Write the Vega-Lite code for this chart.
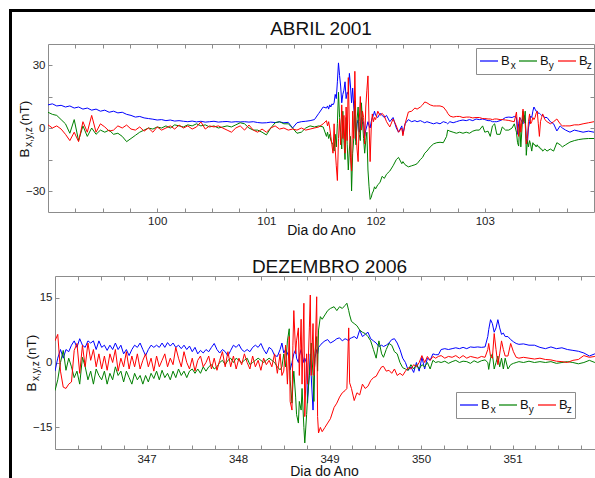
{
  "$schema": "https://vega.github.io/schema/vega-lite/v6.json",
  "padding": {"left": 9, "top": 9, "right": 0, "bottom": 30},
  "background": "white",
  "bounds": "flush",
  "spacing": 0,
  "resolve": {"scale": {"color": "independent", "shape": "independent"}},
  "config": {
    "font": "Liberation Sans",
    "view": {"stroke": "#8c8c8c", "strokeWidth": 1},
    "axis": {"grid": false, "domain": false, "tickColor": "#8c8c8c", "labelColor": "#222222", "labelFontSize": 11.5, "titleColor": "#111111", "titleFontWeight": "normal"}
  },
  "datasets": {
    "abril": [
      {"d":99.00,"Bx":11,"By":7.5,"Bz":1.5},{"d":99.04,"Bx":11.5,"By":6.5,"Bz":0},{"d":99.08,"Bx":10.5,"By":6,"Bz":1},
      {"d":99.12,"Bx":10.8,"By":4,"Bz":-0.5},{"d":99.16,"Bx":10,"By":2,"Bz":-3},{"d":99.20,"Bx":10.5,"By":-2.5,"Bz":-6},
      {"d":99.24,"Bx":9.5,"By":4,"Bz":-2},{"d":99.28,"Bx":10,"By":-6,"Bz":-6.5},{"d":99.32,"Bx":9,"By":1,"Bz":3},
      {"d":99.36,"Bx":9.5,"By":-4,"Bz":-2},{"d":99.40,"Bx":8.5,"By":0,"Bz":6},{"d":99.44,"Bx":9,"By":-3,"Bz":-2},
      {"d":99.48,"Bx":8,"By":-1,"Bz":2},{"d":99.52,"Bx":8.5,"By":-2,"Bz":0.5},{"d":99.56,"Bx":7.5,"By":-1,"Bz":-1.5},
      {"d":99.60,"Bx":8,"By":-3,"Bz":-1},{"d":99.64,"Bx":7.2,"By":-2.5,"Bz":1},{"d":99.68,"Bx":7.5,"By":-4,"Bz":0},
      {"d":99.72,"Bx":6.5,"By":-6.5,"Bz":1.4},{"d":99.76,"Bx":6,"By":-5,"Bz":-0.5},{"d":99.80,"Bx":5.2,"By":-3.5,"Bz":-1},
      {"d":99.84,"Bx":5.5,"By":-2,"Bz":0.5},{"d":99.88,"Bx":4.8,"By":-1,"Bz":-1.5},{"d":99.92,"Bx":4.5,"By":0,"Bz":0},
      {"d":99.96,"Bx":4.2,"By":-0.5,"Bz":-2},{"d":100.00,"Bx":3.8,"By":0.5,"Bz":0.5},{"d":100.04,"Bx":4,"By":0,"Bz":-1},
      {"d":100.08,"Bx":3.5,"By":1,"Bz":0},{"d":100.12,"Bx":3.8,"By":0,"Bz":1},{"d":100.16,"Bx":3.3,"By":1.5,"Bz":-0.5},
      {"d":100.20,"Bx":3.5,"By":1,"Bz":1.4},{"d":100.24,"Bx":3.2,"By":0.5,"Bz":0},{"d":100.28,"Bx":3,"By":1.5,"Bz":1},
      {"d":100.32,"Bx":3.3,"By":1,"Bz":-0.5},{"d":100.36,"Bx":2.9,"By":2,"Bz":0.5},{"d":100.40,"Bx":3.2,"By":1,"Bz":2.9},
      {"d":100.44,"Bx":2.8,"By":1.5,"Bz":-0.5},{"d":100.48,"Bx":3,"By":0.5,"Bz":1},{"d":100.52,"Bx":3.2,"By":1,"Bz":0.5},
      {"d":100.56,"Bx":2.8,"By":0,"Bz":1},{"d":100.60,"Bx":3,"By":0.5,"Bz":0},{"d":100.64,"Bx":3.1,"By":1,"Bz":-1},
      {"d":100.68,"Bx":2.8,"By":0.5,"Bz":-2},{"d":100.72,"Bx":3,"By":1.5,"Bz":0},{"d":100.76,"Bx":2.9,"By":2.5,"Bz":1},
      {"d":100.80,"Bx":3,"By":2,"Bz":-1},{"d":100.84,"Bx":2.8,"By":0,"Bz":1.4},{"d":100.88,"Bx":3,"By":-1,"Bz":-1},
      {"d":100.92,"Bx":2.6,"By":-1,"Bz":-2},{"d":100.96,"Bx":2.4,"By":-2,"Bz":-0.5},{"d":101.00,"Bx":2.5,"By":-3.3,"Bz":-2},
      {"d":101.04,"Bx":2.8,"By":0,"Bz":0},{"d":101.08,"Bx":2.6,"By":2.5,"Bz":1},{"d":101.12,"Bx":2.9,"By":3,"Bz":-0.5},
      {"d":101.16,"Bx":2.5,"By":2,"Bz":0},{"d":101.20,"Bx":2.7,"By":2,"Bz":-1},{"d":101.24,"Bx":0,"By":0,"Bz":-0.5},
      {"d":101.28,"Bx":2.5,"By":-2.5,"Bz":-1},{"d":101.32,"Bx":3,"By":-2,"Bz":0},{"d":101.36,"Bx":3.2,"By":0,"Bz":-1},
      {"d":101.40,"Bx":3.5,"By":1,"Bz":-0.5},{"d":101.44,"Bx":4,"By":0.5,"Bz":0},{"d":101.48,"Bx":7,"By":1,"Bz":0.5},
      {"d":101.52,"Bx":10,"By":0.5,"Bz":2},{"d":101.55,"Bx":9.5,"By":-4,"Bz":3.5},{"d":101.56,"Bx":10.5,"By":-2,"Bz":1},
      {"d":101.57,"Bx":9,"By":-5,"Bz":3},{"d":101.58,"Bx":11,"By":-3,"Bz":0},{"d":101.59,"Bx":10,"By":-6,"Bz":-4},
      {"d":101.60,"Bx":11.5,"By":-7,"Bz":-8},{"d":101.61,"Bx":11,"By":-8,"Bz":-12},{"d":101.62,"Bx":12,"By":-11,"Bz":2},
      {"d":101.63,"Bx":16,"By":-3,"Bz":-10},{"d":101.64,"Bx":14,"By":-9,"Bz":-18},{"d":101.65,"Bx":22,"By":2,"Bz":-25},
      {"d":101.66,"Bx":31,"By":17,"Bz":-5},{"d":101.67,"Bx":25,"By":5,"Bz":4},{"d":101.68,"Bx":20,"By":-2,"Bz":-8},
      {"d":101.69,"Bx":12,"By":-10,"Bz":11},{"d":101.70,"Bx":16,"By":8,"Bz":-5},{"d":101.71,"Bx":18,"By":-6,"Bz":6},
      {"d":101.72,"Bx":22,"By":-15,"Bz":-12},{"d":101.73,"Bx":14,"By":5,"Bz":10},{"d":101.74,"Bx":17,"By":-8,"Bz":-6},
      {"d":101.75,"Bx":16,"By":-20,"Bz":24},{"d":101.76,"Bx":26,"By":-10,"Bz":0},{"d":101.77,"Bx":20,"By":-4,"Bz":-14},
      {"d":101.78,"Bx":12,"By":-30,"Bz":-20.5},{"d":101.79,"Bx":19,"By":-12,"Bz":8},{"d":101.80,"Bx":10,"By":-5,"Bz":-5},
      {"d":101.81,"Bx":5,"By":13,"Bz":27},{"d":101.82,"Bx":-6,"By":-8,"Bz":0},{"d":101.83,"Bx":2,"By":4,"Bz":-10},
      {"d":101.84,"Bx":4,"By":10,"Bz":-16},{"d":101.85,"Bx":-2,"By":-3,"Bz":3},{"d":101.86,"Bx":0,"By":-6,"Bz":15},
      {"d":101.87,"Bx":5,"By":12,"Bz":-1},{"d":101.88,"Bx":2,"By":3,"Bz":8},{"d":101.89,"Bx":3,"By":-5,"Bz":5},
      {"d":101.90,"Bx":-4,"By":-12,"Bz":-7.6},{"d":101.91,"Bx":-1,"By":-6,"Bz":10},{"d":101.92,"Bx":1,"By":-2,"Bz":18},
      {"d":101.93,"Bx":3,"By":-20,"Bz":24.8},{"d":101.94,"Bx":1,"By":-28,"Bz":2},{"d":101.95,"Bx":0,"By":-34,"Bz":-16},
      {"d":101.96,"Bx":3,"By":-33,"Bz":0},{"d":101.97,"Bx":5,"By":-31,"Bz":6.7},{"d":101.98,"Bx":6,"By":-30,"Bz":3},
      {"d":101.99,"Bx":8,"By":-28,"Bz":5},{"d":102.00,"Bx":6,"By":-29,"Bz":4},{"d":102.02,"Bx":5,"By":-27,"Bz":8},
      {"d":102.04,"Bx":7,"By":-26,"Bz":6},{"d":102.06,"Bx":6,"By":-23,"Bz":7},{"d":102.08,"Bx":5,"By":-24,"Bz":5.7},
      {"d":102.10,"Bx":6,"By":-22,"Bz":3},{"d":102.13,"Bx":3,"By":-20.5,"Bz":0.5},{"d":102.16,"Bx":5,"By":-18,"Bz":4.3},
      {"d":102.19,"Bx":0,"By":-15,"Bz":1},{"d":102.21,"Bx":-2,"By":-14,"Bz":-2},{"d":102.24,"Bx":1,"By":-17,"Bz":0},
      {"d":102.25,"Bx":-3,"By":-16,"Bz":-3.7},{"d":102.27,"Bx":2,"By":-17.5,"Bz":2},{"d":102.30,"Bx":4,"By":-18.5,"Bz":7.6},
      {"d":102.33,"Bx":3,"By":-18,"Bz":8},{"d":102.36,"Bx":3.5,"By":-17.5,"Bz":9.5},{"d":102.38,"Bx":3,"By":-17,"Bz":9},
      {"d":102.41,"Bx":3.5,"By":-15,"Bz":10},{"d":102.43,"Bx":3,"By":-14,"Bz":11},{"d":102.45,"Bx":2.5,"By":-12,"Bz":12.4},
      {"d":102.47,"Bx":3,"By":-11,"Bz":12},{"d":102.50,"Bx":2.5,"By":-9,"Bz":11},{"d":102.53,"Bx":2,"By":-7.6,"Bz":10.5},
      {"d":102.56,"Bx":2.5,"By":-7,"Bz":10.5},{"d":102.59,"Bx":2,"By":-6.8,"Bz":10.5},{"d":102.62,"Bx":3,"By":-7,"Bz":10},
      {"d":102.65,"Bx":2.5,"By":-4,"Bz":8},{"d":102.66,"Bx":2,"By":-1,"Bz":7},{"d":102.68,"Bx":3,"By":-1.5,"Bz":5.7},
      {"d":102.71,"Bx":2.5,"By":-2,"Bz":5.2},{"d":102.74,"Bx":3,"By":-2.5,"Bz":5.5},{"d":102.77,"Bx":3.5,"By":-2,"Bz":5.5},
      {"d":102.80,"Bx":3.8,"By":-2.5,"Bz":5},{"d":102.83,"Bx":3.5,"By":-2,"Bz":5.2},{"d":102.86,"Bx":4,"By":-2.5,"Bz":5.2},
      {"d":102.89,"Bx":3.5,"By":-1.5,"Bz":4.8},{"d":102.92,"Bx":4.3,"By":-1,"Bz":5},{"d":102.95,"Bx":4,"By":-1,"Bz":5},
      {"d":102.98,"Bx":4.3,"By":1,"Bz":4.5},{"d":103.00,"Bx":4,"By":-2,"Bz":4.5},{"d":103.03,"Bx":3.5,"By":-1.5,"Bz":4.3},
      {"d":103.05,"Bx":3.5,"By":-4,"Bz":4.3},{"d":103.07,"Bx":3,"By":1,"Bz":4},{"d":103.09,"Bx":3,"By":2,"Bz":4.3},
      {"d":103.11,"Bx":3,"By":-3,"Bz":4.3},{"d":103.14,"Bx":3.5,"By":-3,"Bz":4},{"d":103.16,"Bx":4,"By":0.5,"Bz":4},
      {"d":103.19,"Bx":5,"By":-1,"Bz":3.8},{"d":103.22,"Bx":5.2,"By":-1,"Bz":3.6},{"d":103.25,"Bx":5,"By":0,"Bz":3.2},
      {"d":103.27,"Bx":5.5,"By":2,"Bz":3},{"d":103.29,"Bx":5,"By":-2,"Bz":7.6},{"d":103.30,"Bx":-3,"By":-7,"Bz":0},
      {"d":103.31,"Bx":2,"By":-8.6,"Bz":-4},{"d":103.32,"Bx":5,"By":2,"Bz":5},{"d":103.33,"Bx":4,"By":-9,"Bz":-2},
      {"d":103.35,"Bx":2,"By":8,"Bz":9},{"d":103.36,"Bx":6,"By":3,"Bz":3},{"d":103.37,"Bx":4,"By":8,"Bz":2},
      {"d":103.38,"Bx":-5,"By":-13,"Bz":-7.6},{"d":103.39,"Bx":-7.6,"By":-6,"Bz":-5},{"d":103.40,"Bx":0,"By":-9,"Bz":3},
      {"d":103.41,"Bx":3,"By":-6,"Bz":6.7},{"d":103.42,"Bx":5.7,"By":-8,"Bz":2},{"d":103.43,"Bx":5,"By":-11,"Bz":3},
      {"d":103.44,"Bx":8,"By":-7,"Bz":5},{"d":103.45,"Bx":10,"By":-8,"Bz":4},{"d":103.46,"Bx":9,"By":-8,"Bz":5},
      {"d":103.47,"Bx":8,"By":-9,"Bz":7},{"d":103.48,"Bx":8,"By":-8,"Bz":8},{"d":103.49,"Bx":7,"By":-9,"Bz":2},
      {"d":103.50,"Bx":7,"By":-9,"Bz":-4},{"d":103.51,"Bx":6.5,"By":-10,"Bz":3},{"d":103.52,"Bx":6,"By":-10,"Bz":5},
      {"d":103.53,"Bx":6,"By":-11,"Bz":6.7},{"d":103.55,"Bx":5,"By":-10,"Bz":4},{"d":103.57,"Bx":5,"By":-11,"Bz":3},
      {"d":103.60,"Bx":3,"By":-10,"Bz":2},{"d":103.63,"Bx":2,"By":-11,"Bz":3},{"d":103.66,"Bx":-1.4,"By":-7,"Bz":4.3},
      {"d":103.69,"Bx":1,"By":-8,"Bz":2},{"d":103.71,"Bx":0,"By":-9,"Bz":1},{"d":103.74,"Bx":-1,"By":-8,"Bz":1},
      {"d":103.78,"Bx":-2,"By":-6.7,"Bz":1},{"d":103.82,"Bx":-1,"By":-6,"Bz":1.5},{"d":103.86,"Bx":-1.5,"By":-5.5,"Bz":1.5},
      {"d":103.90,"Bx":-2,"By":-5.2,"Bz":2},{"d":103.95,"Bx":-1.5,"By":-5,"Bz":2.5},{"d":104.00,"Bx":-2,"By":-5,"Bz":3}
    ],
    "dez": [
      {"d":346.00,"Bx":-2,"By":-6.5,"Bz":5},{"d":346.03,"Bx":1,"By":-4,"Bz":6.5},{"d":346.06,"Bx":3,"By":0,"Bz":-2},
      {"d":346.09,"Bx":1,"By":2.8,"Bz":-5.7},{"d":346.12,"Bx":3,"By":-1.8,"Bz":-6},{"d":346.15,"Bx":2.5,"By":1,"Bz":-5},
      {"d":346.18,"Bx":4,"By":-1,"Bz":-4.5},{"d":346.21,"Bx":5,"By":-3.5,"Bz":2.8},{"d":346.24,"Bx":3.5,"By":-2,"Bz":4.4},
      {"d":346.27,"Bx":5.5,"By":-5,"Bz":-2.5},{"d":346.30,"Bx":4,"By":1.2,"Bz":4},{"d":346.33,"Bx":3.5,"By":-1,"Bz":-1},
      {"d":346.36,"Bx":5,"By":-4,"Bz":4.5},{"d":346.39,"Bx":4.5,"By":-2,"Bz":0.5},{"d":346.42,"Bx":5,"By":-5,"Bz":3},
      {"d":346.45,"Bx":3,"By":-1.5,"Bz":-1},{"d":346.48,"Bx":5,"By":-3,"Bz":2},{"d":346.51,"Bx":3.5,"By":-4,"Bz":-1.5},
      {"d":346.54,"Bx":4,"By":-2,"Bz":1.5},{"d":346.57,"Bx":2.8,"By":-5,"Bz":-1.8},{"d":346.60,"Bx":4,"By":-2.5,"Bz":2},
      {"d":346.63,"Bx":3,"By":-4,"Bz":0},{"d":346.66,"Bx":4.5,"By":-1,"Bz":3},{"d":346.69,"Bx":3,"By":-3,"Bz":-2},
      {"d":346.72,"Bx":4,"By":-2,"Bz":1},{"d":346.75,"Bx":2,"By":-4.5,"Bz":-1},{"d":346.78,"Bx":3,"By":-2,"Bz":2.5},
      {"d":346.81,"Bx":1.6,"By":-3.5,"Bz":-1.5},{"d":346.84,"Bx":3,"By":-5,"Bz":1.5},{"d":346.87,"Bx":4,"By":-2.5,"Bz":-1},
      {"d":346.90,"Bx":3.5,"By":-4,"Bz":2},{"d":346.93,"Bx":4.5,"By":-3,"Bz":-1.5},{"d":346.96,"Bx":3,"By":-5,"Bz":0.5},
      {"d":346.99,"Bx":1.6,"By":-3,"Bz":2},{"d":347.02,"Bx":3,"By":-4.5,"Bz":-1},{"d":347.05,"Bx":4,"By":-2.5,"Bz":1},
      {"d":347.08,"Bx":3.5,"By":-3.7,"Bz":-2},{"d":347.11,"Bx":4,"By":-2,"Bz":1.5},{"d":347.14,"Bx":3.5,"By":-4,"Bz":-1},
      {"d":347.17,"Bx":4.5,"By":-1.8,"Bz":0.5},{"d":347.20,"Bx":3.5,"By":-3.5,"Bz":2},{"d":347.23,"Bx":4.6,"By":-2.5,"Bz":-1},
      {"d":347.26,"Bx":3.8,"By":-4,"Bz":1},{"d":347.29,"Bx":4.5,"By":-2,"Bz":-0.5},{"d":347.32,"Bx":3.5,"By":-3.5,"Bz":3.5},
      {"d":347.35,"Bx":4,"By":-1.5,"Bz":1},{"d":347.38,"Bx":3.2,"By":-3,"Bz":-1},{"d":347.41,"Bx":4,"By":-2,"Bz":2.5},
      {"d":347.44,"Bx":3,"By":-3.5,"Bz":0},{"d":347.47,"Bx":3.8,"By":-2,"Bz":-1.5},{"d":347.50,"Bx":2.5,"By":-1.5,"Bz":1},
      {"d":347.53,"Bx":3.5,"By":-2.5,"Bz":-2},{"d":347.56,"Bx":2,"By":-1.5,"Bz":0.5},{"d":347.59,"Bx":2.8,"By":-2.5,"Bz":1.5},
      {"d":347.62,"Bx":2.2,"By":-1,"Bz":-1},{"d":347.65,"Bx":3,"By":-2,"Bz":0},{"d":347.68,"Bx":2.5,"By":-1,"Bz":1.5},
      {"d":347.71,"Bx":3.5,"By":-0.5,"Bz":-1.5},{"d":347.74,"Bx":4.4,"By":-1.5,"Bz":1},{"d":347.77,"Bx":3,"By":-1,"Bz":-1.8},
      {"d":347.80,"Bx":2.2,"By":0,"Bz":0.5},{"d":347.83,"Bx":3,"By":0.5,"Bz":2.5},{"d":347.86,"Bx":2.5,"By":-0.5,"Bz":-1},
      {"d":347.89,"Bx":1.5,"By":0.5,"Bz":2.5},{"d":347.92,"Bx":2.8,"By":1,"Bz":-1},{"d":347.95,"Bx":4,"By":0,"Bz":1.5},
      {"d":347.98,"Bx":3.5,"By":1,"Bz":-1.5},{"d":348.01,"Bx":4.2,"By":0.5,"Bz":1},{"d":348.04,"Bx":3,"By":0,"Bz":-0.5},
      {"d":348.07,"Bx":2.5,"By":0.5,"Bz":2},{"d":348.10,"Bx":3,"By":1,"Bz":0},{"d":348.13,"Bx":2.5,"By":-0.5,"Bz":-1.5},
      {"d":348.16,"Bx":3.5,"By":0,"Bz":1.5},{"d":348.19,"Bx":4,"By":0.5,"Bz":-1},{"d":348.22,"Bx":3.5,"By":1,"Bz":0.5},
      {"d":348.25,"Bx":4.4,"By":0.5,"Bz":-1.8},{"d":348.28,"Bx":3,"By":0,"Bz":1},{"d":348.31,"Bx":2,"By":0.5,"Bz":-0.5},
      {"d":348.34,"Bx":3.5,"By":1,"Bz":0.5},{"d":348.37,"Bx":3,"By":0.5,"Bz":-1},{"d":348.40,"Bx":1.6,"By":0,"Bz":2},
      {"d":348.43,"Bx":1.4,"By":-1,"Bz":-2.5},{"d":348.46,"Bx":3,"By":-1.7,"Bz":2},{"d":348.48,"Bx":4.5,"By":-1,"Bz":-3},
      {"d":348.50,"Bx":2.2,"By":2,"Bz":-2},{"d":348.52,"Bx":3,"By":-1,"Bz":4},{"d":348.54,"Bx":2.2,"By":5,"Bz":-5},
      {"d":348.56,"Bx":1,"By":7.8,"Bz":6},{"d":348.57,"Bx":-1.7,"By":-4,"Bz":-9},{"d":348.59,"Bx":0,"By":-9.4,"Bz":-11},
      {"d":348.60,"Bx":1,"By":-5,"Bz":4},{"d":348.61,"Bx":2,"By":-2,"Bz":12},{"d":348.63,"Bx":3,"By":-8,"Bz":2},
      {"d":348.64,"Bx":1,"By":-12,"Bz":5},{"d":348.66,"Bx":0,"By":-14,"Bz":8},{"d":348.67,"Bx":1.5,"By":-9,"Bz":-3},
      {"d":348.69,"Bx":3,"By":-11,"Bz":10},{"d":348.70,"Bx":2,"By":-6,"Bz":-5},{"d":348.72,"Bx":0,"By":-15,"Bz":13.7},
      {"d":348.73,"Bx":1,"By":-18.6,"Bz":-12.5},{"d":348.75,"Bx":-0.2,"By":-12,"Bz":2},{"d":348.76,"Bx":-9.4,"By":-8,"Bz":-5},
      {"d":348.78,"Bx":-2,"By":-3,"Bz":8},{"d":348.79,"Bx":2,"By":0,"Bz":15.6},{"d":348.80,"Bx":-3,"By":4.5,"Bz":-3},
      {"d":348.82,"Bx":-11,"By":-3,"Bz":9},{"d":348.83,"Bx":-5,"By":-9,"Bz":-3},{"d":348.84,"Bx":1,"By":2,"Bz":0},
      {"d":348.86,"Bx":3,"By":6,"Bz":15.2},{"d":348.87,"Bx":2,"By":-2,"Bz":-12.5},{"d":348.88,"Bx":3.5,"By":7.5,"Bz":-16.3},
      {"d":348.90,"Bx":4,"By":10.6,"Bz":-15},{"d":348.92,"Bx":4.5,"By":10,"Bz":-16},{"d":348.95,"Bx":5,"By":11,"Bz":-15},
      {"d":348.98,"Bx":5.3,"By":12,"Bz":-14},{"d":349.01,"Bx":4.5,"By":12.5,"Bz":-13},{"d":349.05,"Bx":5,"By":12.9,"Bz":-10.4},
      {"d":349.08,"Bx":5.5,"By":12,"Bz":-9.4},{"d":349.11,"Bx":5.7,"By":12.9,"Bz":-8},{"d":349.14,"Bx":5,"By":12.5,"Bz":-7},
      {"d":349.17,"Bx":5.5,"By":13.2,"Bz":-6.5},{"d":349.19,"Bx":5.3,"By":13.7,"Bz":-6},{"d":349.21,"Bx":5,"By":12,"Bz":8},
      {"d":349.22,"Bx":5.5,"By":11,"Bz":-4.7},{"d":349.24,"Bx":5.7,"By":9.5,"Bz":-6},{"d":349.27,"Bx":6,"By":9,"Bz":-8.8},
      {"d":349.30,"Bx":5.5,"By":8.5,"Bz":-7},{"d":349.33,"Bx":7.5,"By":7.5,"Bz":-7.5},{"d":349.36,"Bx":6,"By":7,"Bz":-5},
      {"d":349.39,"Bx":6.5,"By":6.7,"Bz":-6},{"d":349.42,"Bx":7,"By":6,"Bz":-5.5},{"d":349.45,"Bx":5.5,"By":5,"Bz":-4.2},
      {"d":349.48,"Bx":5,"By":3,"Bz":-3.5},{"d":349.51,"Bx":4.5,"By":1,"Bz":-3.2},{"d":349.54,"Bx":3.7,"By":5,"Bz":-2},
      {"d":349.57,"Bx":4,"By":2,"Bz":-1},{"d":349.59,"Bx":3.7,"By":1.2,"Bz":-0.9},{"d":349.62,"Bx":4,"By":3,"Bz":-2},
      {"d":349.65,"Bx":4.5,"By":4.4,"Bz":-1.8},{"d":349.68,"Bx":5.3,"By":4,"Bz":-2.5},{"d":349.71,"Bx":5.5,"By":2.5,"Bz":-1.5},
      {"d":349.74,"Bx":4.5,"By":2,"Bz":-3},{"d":349.77,"Bx":3,"By":0,"Bz":-2.5},{"d":349.80,"Bx":1,"By":-1.2,"Bz":-3},
      {"d":349.83,"Bx":0,"By":-1.5,"Bz":-2},{"d":349.86,"Bx":-1.8,"By":-1.8,"Bz":-1.2},{"d":349.89,"Bx":-1,"By":-0.5,"Bz":-1.5},
      {"d":349.92,"Bx":-2.3,"By":-1.5,"Bz":-0.5},{"d":349.95,"Bx":0,"By":-0.5,"Bz":-1},{"d":349.98,"Bx":-2,"By":-1.5,"Bz":0},
      {"d":350.01,"Bx":1.2,"By":-0.5,"Bz":1.6},{"d":350.04,"Bx":-1.5,"By":-1,"Bz":0},{"d":350.07,"Bx":1,"By":0,"Bz":1.4},
      {"d":350.10,"Bx":0.5,"By":-1.5,"Bz":0.5},{"d":350.13,"Bx":2,"By":0.5,"Bz":1.4},{"d":350.16,"Bx":1.8,"By":0,"Bz":1},
      {"d":350.19,"Bx":1.8,"By":0.2,"Bz":1.4},{"d":350.22,"Bx":3,"By":0,"Bz":1.6},{"d":350.26,"Bx":3.2,"By":0.3,"Bz":1},
      {"d":350.30,"Bx":3,"By":-0.2,"Bz":1.4},{"d":350.34,"Bx":3.2,"By":0.2,"Bz":1.2},{"d":350.38,"Bx":3.4,"By":0.5,"Bz":1.6},
      {"d":350.42,"Bx":3.2,"By":0,"Bz":1},{"d":350.46,"Bx":3.5,"By":0.3,"Bz":1.6},{"d":350.50,"Bx":3.2,"By":0.2,"Bz":1},
      {"d":350.54,"Bx":3.6,"By":-0.2,"Bz":1.4},{"d":350.58,"Bx":3.5,"By":0.4,"Bz":1.2},{"d":350.62,"Bx":3.6,"By":0,"Bz":1},
      {"d":350.66,"Bx":3.5,"By":0.4,"Bz":1.4},{"d":350.70,"Bx":3.6,"By":0.6,"Bz":1.2},{"d":350.73,"Bx":6,"By":0,"Bz":3},
      {"d":350.74,"Bx":7.6,"By":-1.6,"Bz":4.4},{"d":350.76,"Bx":9.9,"By":1,"Bz":1.4},{"d":350.78,"Bx":9,"By":2,"Bz":1},
      {"d":350.80,"Bx":7,"By":-1.5,"Bz":6.7},{"d":350.82,"Bx":8,"By":0,"Bz":3},{"d":350.84,"Bx":9.9,"By":1.5,"Bz":-0.5},
      {"d":350.86,"Bx":8,"By":-1,"Bz":2},{"d":350.88,"Bx":6.5,"By":1,"Bz":5},{"d":350.90,"Bx":6.8,"By":-1.5,"Bz":3},
      {"d":350.92,"Bx":6,"By":1,"Bz":1.5},{"d":350.95,"Bx":6,"By":-1.5,"Bz":1.5},{"d":350.98,"Bx":5.3,"By":-0.5,"Bz":4.4},
      {"d":351.01,"Bx":4.8,"By":-0.2,"Bz":2.5},{"d":351.04,"Bx":4.4,"By":0,"Bz":1.2},{"d":351.07,"Bx":4.2,"By":0.2,"Bz":1},
      {"d":351.12,"Bx":4.3,"By":0,"Bz":1.2},{"d":351.18,"Bx":4,"By":0.3,"Bz":1},{"d":351.24,"Bx":4,"By":0,"Bz":0.8},
      {"d":351.30,"Bx":3.5,"By":0.2,"Bz":1},{"d":351.36,"Bx":3.2,"By":0,"Bz":0.7},{"d":351.42,"Bx":3.6,"By":0.2,"Bz":0.6},
      {"d":351.48,"Bx":3.2,"By":-0.2,"Bz":0.3},{"d":351.54,"Bx":3.4,"By":0,"Bz":0.2},{"d":351.60,"Bx":3,"By":0.2,"Bz":0},
      {"d":351.66,"Bx":2.8,"By":0,"Bz":0.5},{"d":351.72,"Bx":2.6,"By":-0.3,"Bz":0.7},{"d":351.78,"Bx":2.2,"By":0,"Bz":1.6},
      {"d":351.84,"Bx":1.5,"By":0.5,"Bz":1.2},{"d":351.90,"Bx":2,"By":0,"Bz":1.4},{"d":351.96,"Bx":2.2,"By":0.2,"Bz":1.2},
      {"d":352.00,"Bx":2,"By":0,"Bz":1}
    ],
    "subscripts": [{"sub": "x"}, {"sub": "y"}, {"sub": "z"}]
  },
  "vconcat": [
    {
      "width": 600, "height": 3,
      "data": {"values": [{}]},
      "mark": {"type": "rect", "color": "black"},
      "encoding": {},
      "view": {"fill": "black", "stroke": null}
    },
    {
      "bounds": "flush",
      "spacing": 0,
      "resolve": {"scale": {"color": "independent", "shape": "independent"}},
      "hconcat": [
        {
          "width": 3, "height": 470,
          "data": {"values": [{}]},
          "mark": {"type": "rect", "color": "black"},
          "encoding": {},
          "view": {"fill": "black", "stroke": null}
        },
        {
          "width": 36, "height": 10,
          "data": {"values": []},
          "mark": "point",
          "encoding": {},
          "view": {"stroke": null}
        },
        {
          "bounds": "flush",
          "spacing": 0,
          "resolve": {"scale": {"color": "independent", "shape": "independent"}},
          "vconcat": [
            {
              "width": 10, "height": 32,
              "data": {"values": []},
              "mark": "point",
              "encoding": {},
              "view": {"stroke": null}
            },
            {
              "width": 546, "height": 168,
              "title": {"text": "ABRIL 2001", "fontSize": 19, "fontWeight": "normal", "color": "#111111", "anchor": "middle", "frame": "group", "offset": 5},
              "data": {"name": "abril"},
              "transform": [{"fold": ["Bx", "By", "Bz"], "as": ["s", "v"]}],
              "layer": [
                {
                  "mark": {"type": "line", "strokeWidth": 1, "clip": true},
                  "encoding": {
                    "x": {"field": "d", "type": "quantitative",
                      "scale": {"domain": [99, 104], "nice": false, "zero": false},
                      "axis": {"orient": "bottom", "values": [99.25,99.5,99.75,100,100.25,100.5,100.75,101,101.25,101.5,101.75,102,102.25,102.5,102.75,103,103.25,103.5,103.75],
                        "labelExpr": "datum.value % 1 == 0 ? format(datum.value, 'd') : ''", "tickSize": -4, "labelPadding": 7,
                        "title": "Dia do Ano", "titleFontSize": 14, "titlePadding": -3}},
                    "y": {"field": "v", "type": "quantitative",
                      "scale": {"domain": [-40, 40], "nice": false},
                      "axis": {"orient": "left", "values": [-30, -15, 0, 15, 30],
                        "labelExpr": "abs(datum.value) == 15 ? '' : format(datum.value, 'd')", "tickSize": -4, "labelPadding": 7,
                        "title": "B", "titleFontSize": 13.5, "titleAngle": 270, "titleAlign": "left", "titleBaseline": "alphabetic", "titleX": -20, "titleY": 113}},
                    "color": {"field": "s", "type": "nominal",
                      "scale": {"domain": ["Bx", "By", "Bz"], "range": ["#0000ff", "#008000", "#ff0000"]},
                      "legend": {"orient": "none", "legendX": 425, "legendY": 1, "direction": "horizontal", "title": null,
                        "symbolType": "stroke", "symbolSize": 324, "symbolStrokeWidth": 1.2, "labelFontSize": 13, "labelColor": "#111111",
                        "labelOffset": 2, "columnPadding": 6, "gridAlign": "all", "padding": 6, "strokeColor": null, "fillColor": "white",
                        "labelExpr": "'B'"}}
                  }
                },
                {
                  "mark": {"type": "point", "opacity": 0},
                  "encoding": {
                    "x": {"field": "d", "type": "quantitative",
                      "axis": {"orient": "top", "values": [99.25,99.5,99.75,100,100.25,100.5,100.75,101,101.25,101.5,101.75,102,102.25,102.5,102.75,103,103.25,103.5,103.75],
                        "labels": false, "tickSize": -4, "title": null}},
                    "y": {"field": "v", "type": "quantitative",
                      "axis": {"orient": "right", "values": [-30, -15, 0, 15, 30], "labels": false, "tickSize": -4, "title": null}}
                  }
                },
                {
                  "mark": {"type": "point", "opacity": 0},
                  "encoding": {
                    "x": {"field": "d", "type": "quantitative", "axis": null},
                    "y": {"field": "v", "type": "quantitative",
                      "axis": {"orient": "left", "labels": false, "ticks": false, "title": "x,y,z", "titleFontSize": 10,
                        "titleAngle": 270, "titleAlign": "left", "titleBaseline": "alphabetic", "titleX": -17, "titleY": 102.5}}
                  }
                },
                {
                  "mark": {"type": "point", "opacity": 0},
                  "encoding": {
                    "x": {"field": "d", "type": "quantitative", "axis": null},
                    "y": {"field": "v", "type": "quantitative",
                      "axis": {"orient": "left", "labels": false, "ticks": false, "title": "(nT)", "titleFontSize": 13.5,
                        "titleAngle": 270, "titleAlign": "left", "titleBaseline": "alphabetic", "titleX": -20, "titleY": 81}}
                  }
                },
                {
                  "data": {"name": "subscripts"},
                  "mark": {"type": "point", "opacity": 0},
                  "encoding": {
                    "shape": {"field": "sub", "type": "nominal", "scale": {"domain": ["x", "y", "z"]},
                      "legend": {"orient": "none", "legendX": 428, "legendY": 4, "direction": "horizontal", "title": null,
                        "symbolType": "stroke", "symbolSize": 324, "symbolOpacity": 0, "labelFontSize": 10, "labelColor": "#111111",
                        "labelBaseline": "top", "labelOffset": 11.7, "columnPadding": 1, "gridAlign": "all", "padding": 3,
                        "strokeColor": "#8c8c8c", "fillColor": null}}
                  }
                }
              ],
              "resolve": {"axis": {"x": "independent", "y": "independent"}}
            },
            {
              "width": 10, "height": 64,
              "data": {"values": []},
              "mark": "point",
              "encoding": {},
              "view": {"stroke": null}
            },
            {
              "bounds": "flush",
              "spacing": 0,
              "resolve": {"scale": {"color": "independent", "shape": "independent"}},
              "hconcat": [
                {
                  "width": 7, "height": 10,
                  "data": {"values": []},
                  "mark": "point",
                  "encoding": {},
                  "view": {"stroke": null}
                },
                {
                  "width": 549, "height": 173,
                  "title": {"text": "DEZEMBRO 2006", "fontSize": 19, "fontWeight": "normal", "color": "#111111", "anchor": "middle", "frame": "group", "offset": -1},
                  "data": {"name": "dez"},
                  "transform": [{"fold": ["Bx", "By", "Bz"], "as": ["s", "v"]}],
                  "layer": [
                    {
                      "mark": {"type": "line", "strokeWidth": 1, "clip": true},
                      "encoding": {
                        "x": {"field": "d", "type": "quantitative",
                          "scale": {"domain": [346, 352], "nice": false, "zero": false},
                          "axis": {"orient": "bottom", "values": [346.25,346.5,346.75,347,347.25,347.5,347.75,348,348.25,348.5,348.75,349,349.25,349.5,349.75,350,350.25,350.5,350.75,351,351.25,351.5,351.75],
                            "labelExpr": "datum.value % 1 == 0 ? format(datum.value, 'd') : ''", "tickSize": -4, "labelPadding": 8,
                            "title": "Dia do Ano", "titleFontSize": 14, "titlePadding": 0, "titleX": 269}},
                        "y": {"field": "v", "type": "quantitative",
                          "scale": {"domain": [-20, 20], "nice": false},
                          "axis": {"orient": "left", "values": [-15, 0, 15], "tickSize": -4, "labelPadding": 7,
                            "labelExpr": "format(datum.value, 'd')",
                            "title": "B", "titleFontSize": 13.5, "titleAngle": 270, "titleAlign": "left", "titleBaseline": "alphabetic", "titleX": -20, "titleY": 115}},
                        "color": {"field": "s", "type": "nominal",
                          "scale": {"domain": ["Bx", "By", "Bz"], "range": ["#0000ff", "#008000", "#ff0000"]},
                          "legend": {"orient": "none", "legendX": 398, "legendY": 113, "direction": "horizontal", "title": null,
                            "symbolType": "stroke", "symbolSize": 324, "symbolStrokeWidth": 1.2, "labelFontSize": 13, "labelColor": "#111111",
                            "labelOffset": 2, "columnPadding": 6, "gridAlign": "all", "padding": 6, "strokeColor": null, "fillColor": "white",
                            "labelExpr": "'B'"}}
                      }
                    },
                    {
                      "mark": {"type": "point", "opacity": 0},
                      "encoding": {
                        "x": {"field": "d", "type": "quantitative",
                          "axis": {"orient": "top", "values": [346.25,346.5,346.75,347,347.25,347.5,347.75,348,348.25,348.5,348.75,349,349.25,349.5,349.75,350,350.25,350.5,350.75,351,351.25,351.5,351.75],
                            "labels": false, "tickSize": -4, "title": null}},
                        "y": {"field": "v", "type": "quantitative",
                          "axis": {"orient": "right", "values": [-15, 0, 15], "labels": false, "tickSize": -4, "title": null}}
                      }
                    },
                    {
                      "mark": {"type": "point", "opacity": 0},
                      "encoding": {
                        "x": {"field": "d", "type": "quantitative", "axis": null},
                        "y": {"field": "v", "type": "quantitative",
                          "axis": {"orient": "left", "labels": false, "ticks": false, "title": "x,y,z", "titleFontSize": 10,
                            "titleAngle": 270, "titleAlign": "left", "titleBaseline": "alphabetic", "titleX": -17, "titleY": 104.5}}
                      }
                    },
                    {
                      "mark": {"type": "point", "opacity": 0},
                      "encoding": {
                        "x": {"field": "d", "type": "quantitative", "axis": null},
                        "y": {"field": "v", "type": "quantitative",
                          "axis": {"orient": "left", "labels": false, "ticks": false, "title": "(nT)", "titleFontSize": 13.5,
                            "titleAngle": 270, "titleAlign": "left", "titleBaseline": "alphabetic", "titleX": -20, "titleY": 83}}
                      }
                    },
                    {
                      "data": {"name": "subscripts"},
                      "mark": {"type": "point", "opacity": 0},
                      "encoding": {
                        "shape": {"field": "sub", "type": "nominal", "scale": {"domain": ["x", "y", "z"]},
                          "legend": {"orient": "none", "legendX": 401, "legendY": 116, "direction": "horizontal", "title": null,
                            "symbolType": "stroke", "symbolSize": 324, "symbolOpacity": 0, "labelFontSize": 10, "labelColor": "#111111",
                            "labelBaseline": "top", "labelOffset": 11.7, "columnPadding": 1, "gridAlign": "all", "padding": 3,
                            "strokeColor": "#8c8c8c", "fillColor": null}}
                      }
                    }
                  ],
                  "resolve": {"axis": {"x": "independent", "y": "independent"}}
                }
              ]
            }
          ]
        }
      ]
    }
  ]
}
